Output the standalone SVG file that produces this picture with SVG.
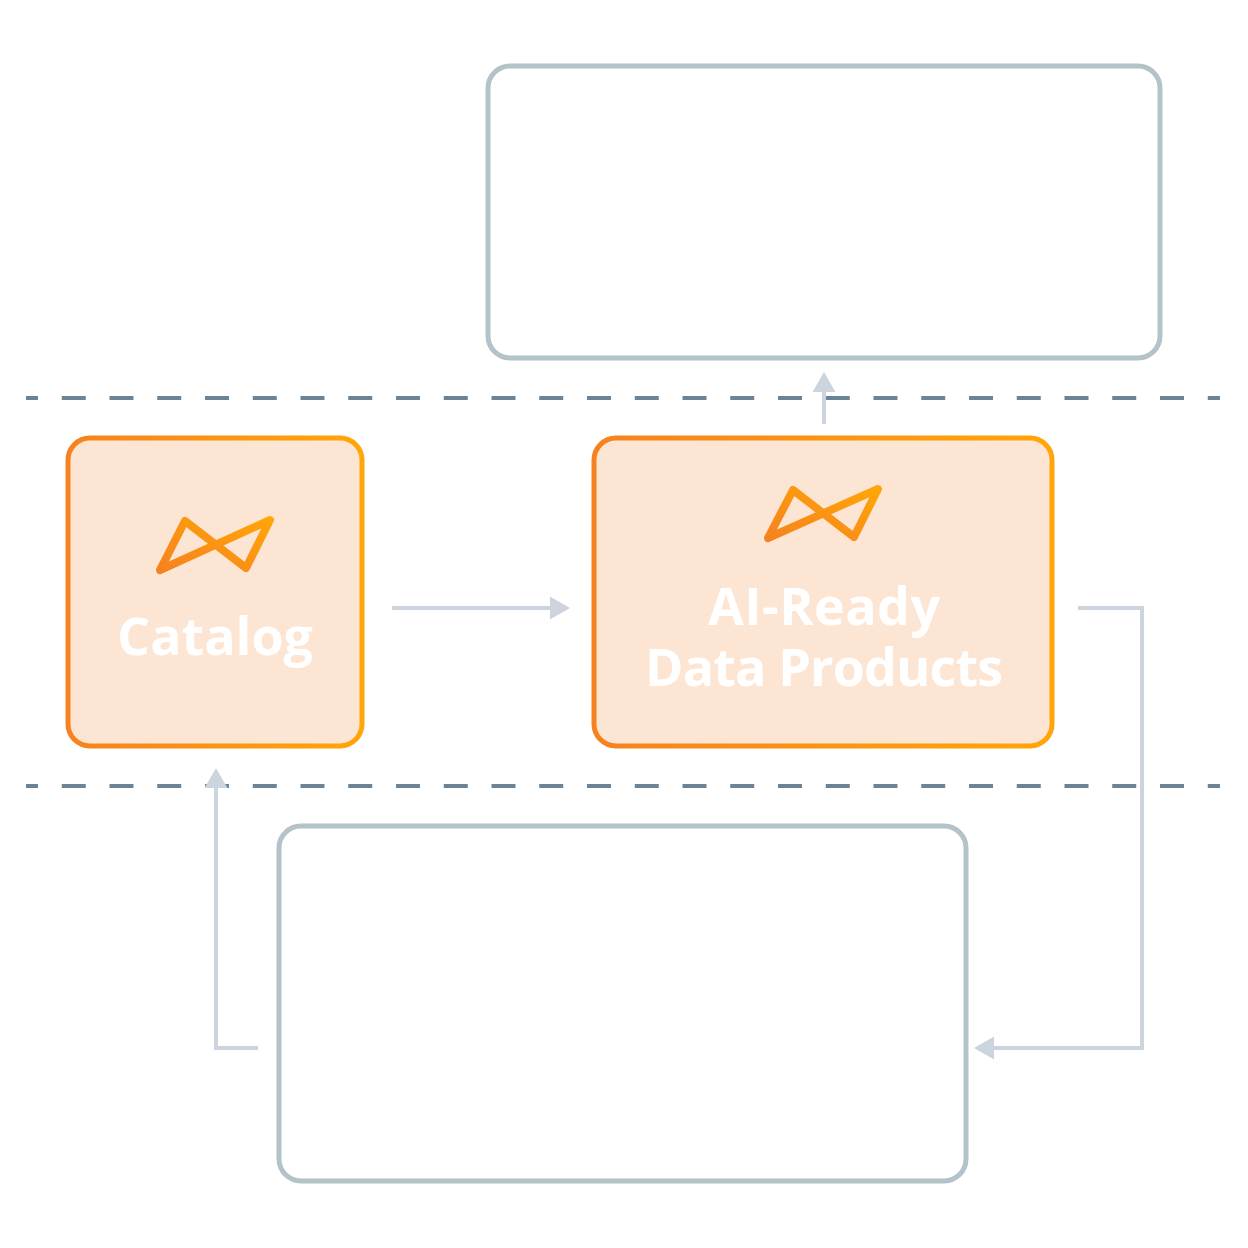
<svg xmlns="http://www.w3.org/2000/svg" width="1248" height="1248" viewBox="0 0 1248 1248">
<defs>
<linearGradient id="g" gradientUnits="objectBoundingBox" x1="0" y1="0" x2="1" y2="0"><stop offset="0" stop-color="#f6821f"/><stop offset="1" stop-color="#ffa608"/></linearGradient>
<linearGradient id="gi" gradientUnits="objectBoundingBox" x1="0" y1="1" x2="1" y2="0"><stop offset="0" stop-color="#f6821f"/><stop offset="1" stop-color="#ffa608"/></linearGradient>
<marker id="arrow" markerUnits="userSpaceOnUse" markerWidth="22" markerHeight="24" refX="0" refY="12" orient="auto"><path d="M0,0.5 L20,12 L0,23.5 Z" fill="#ccd5dd"/></marker>
</defs>
<style>
.plain{fill:#fff;stroke:#b4c2c9;stroke-width:5}
.hot{fill:#fde5d3;stroke:url(#g);stroke-width:5}
.icon{fill:none;stroke:url(#gi);stroke-width:8;stroke-linejoin:round}
.dash{stroke:#6b8394;stroke-width:4;stroke-dasharray:24 23.75;stroke-dashoffset:12;fill:none}
.conn{stroke:#ccd5dd;stroke-width:4;fill:none;marker-end:url(#arrow)}
.label{font-family:"Open Sans","Liberation Sans",Arial,sans-serif;font-weight:700;font-size:52px;fill:#fff;text-anchor:middle}
</style>
<rect width="1248" height="1248" fill="#fff"/>
<g id="dividers">
<path class="dash" d="M26,398H1220"/>
<path class="dash" d="M26,786H1220"/>
</g>
<g id="connectors">
<path class="conn" d="M392,608H550"/>
<path class="conn" d="M824,424V392"/>
<path class="conn" d="M1078,608H1142V1048H994"/>
<path class="conn" d="M258,1048H216V788"/>
</g>
<g id="node-top"><rect class="plain" x="488" y="66" width="672" height="292" rx="22"/></g>
<g id="node-bottom"><rect class="plain" x="279" y="826" width="687" height="355" rx="22"/></g>
<g id="node-catalog">
<rect class="hot" x="68" y="438" width="294" height="308" rx="22"/>
<path class="icon" d="M160,570 L185,521 L246,568 L270,520 Z"/>
<text class="label" x="215" y="655">Catalog</text>
</g>
<g id="node-products">
<rect class="hot" x="594" y="438" width="458" height="308" rx="22"/>
<path class="icon" d="M768,538 L793,490 L854,537 L878,489 Z"/>
<text class="label" x="824" y="625" textLength="232">AI-Ready</text>
<text class="label" x="824" y="686" textLength="358">Data Products</text>
</g>
</svg>
